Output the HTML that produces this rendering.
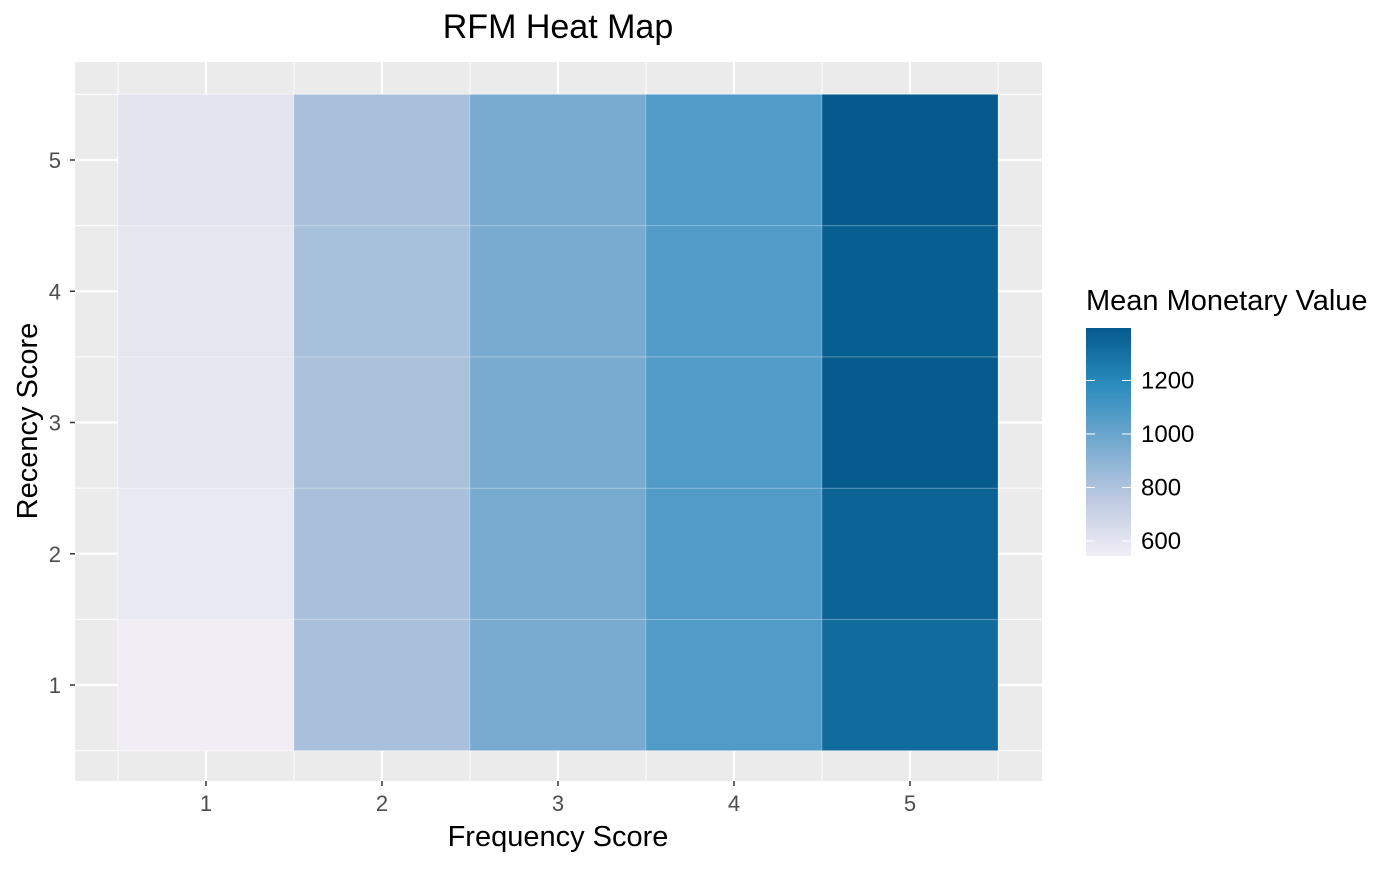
<!DOCTYPE html>
<html><head><meta charset="utf-8"><style>
body{margin:0;background:#fff;font-family:"Liberation Sans",Arial,sans-serif}
</style></head><body>
<svg id="chart" width="1400" height="866" xmlns="http://www.w3.org/2000/svg" font-family="Liberation Sans, Arial, sans-serif">
<defs><linearGradient id="lg" x1="0" y1="1" x2="0" y2="0">
<stop offset="0" stop-color="#f1eef6"/><stop offset="0.25" stop-color="#bdc9e1"/><stop offset="0.5" stop-color="#74a9cf"/><stop offset="0.75" stop-color="#2b8cbe"/><stop offset="1" stop-color="#045a8d"/></linearGradient></defs>
<rect x="75" y="62" width="967" height="719" fill="#ebebeb"/>
<g id="grid"></g><g id="tiles"></g><g id="axes"></g>
<text x="558" y="38" font-size="34" text-anchor="middle" fill="#000">RFM Heat Map</text>
<text x="558" y="846" font-size="29" text-anchor="middle">Frequency Score</text>
<text transform="translate(37,421) rotate(-90)" font-size="29" text-anchor="middle">Recency Score</text>
<text x="1086" y="310" font-size="29">Mean Monetary Value</text>
<rect x="1086" y="328" width="45" height="228" fill="url(#lg)"/>
<g id="legend"></g>
</svg>
<script>
const xCats=[1,2,3,4,5];
const yCats=[1,2,3,4,5];
// values[row for recency 1..5][col for frequency 1..5]
const row1=[550,815,955,1072,1325];
const row2=[575,817,965,1073,1360];
const row3=[590,813,955,1072,1390];
const row4=[590,820,955,1072,1380];
const row5=[601,815,955,1072,1396];
const values=[row1,row2,row3,row4,row5];
const legendTicks=[600,800,1000,1200];
const vMin=544, vMax=1396;
const NS="http://www.w3.org/2000/svg";
const xs=v=>206+(v-1)*176, ys=v=>685-(v-1)*131.25;
const stops=[[241,238,246],[189,201,225],[116,169,207],[43,140,190],[4,90,141]];
function color(v){let t=Math.max(0,Math.min(1,(v-vMin)/(vMax-vMin)))*4;let i=Math.min(3,Math.floor(t)),f=t-i;
const c=stops[i].map((a,k)=>Math.round(a+(stops[i+1][k]-a)*f));return`rgb(${c})`;}
function mk(tag,attrs,parent){const e=document.createElementNS(NS,tag);for(const k in attrs)e.setAttribute(k,attrs[k]);parent.appendChild(e);return e;}
const grid=document.getElementById('grid'),tiles=document.getElementById('tiles'),axes=document.getElementById('axes'),legend=document.getElementById('legend');
for(let i=0;i<=5;i++){const x=xs(0.5+i),y=ys(0.5+i);
let l=mk('line',{x1:x,x2:x,y1:62,y2:781,stroke:'#fff','stroke-width':1},grid);
l=mk('line',{x1:75,x2:1042,y1:y,y2:y,stroke:'#fff','stroke-width':1},grid);}
xCats.forEach(c=>{const x=xs(c);let l=mk('line',{x1:x,x2:x,y1:62,y2:781,stroke:'#fff','stroke-width':2.2},grid);
l=mk('line',{x1:x,x2:x,y1:781,y2:786,stroke:'#333','stroke-width':1.5},axes);
const t=mk('text',{x:x,y:811,'font-size':22,'text-anchor':'middle',fill:'#4d4d4d'},axes);t.textContent=c;});
yCats.forEach(c=>{const y=ys(c);let l=mk('line',{x1:75,x2:1042,y1:y,y2:y,stroke:'#fff','stroke-width':2.2},grid);
l=mk('line',{x1:70,x2:75,y1:y,y2:y,stroke:'#333','stroke-width':1.5},axes);
const t=mk('text',{x:61,y:y+8,'font-size':22,'text-anchor':'end',fill:'#4d4d4d'},axes);t.textContent=c;});
values.forEach((row,ri)=>row.forEach((v,ci)=>{const r=mk('rect',{x:xs(xCats[ci])-88,y:ys(yCats[ri])-65.625,width:176,height:131.25,fill:color(v),stroke:'rgba(255,255,255,0.2)','stroke-width':1},tiles);
}));
legendTicks.forEach(v=>{const y=556-(v-vMin)/(vMax-vMin)*228;
let l=mk('line',{x1:1086,x2:1095,y1:y,y2:y,stroke:'#fff','stroke-width':1},legend);
l=mk('line',{x1:1122,x2:1131,y1:y,y2:y,stroke:'#fff','stroke-width':1},legend);
const t=mk('text',{x:1141,y:y+8,'font-size':24,fill:'#000'},legend);t.textContent=v;});
</script>
</body></html>
